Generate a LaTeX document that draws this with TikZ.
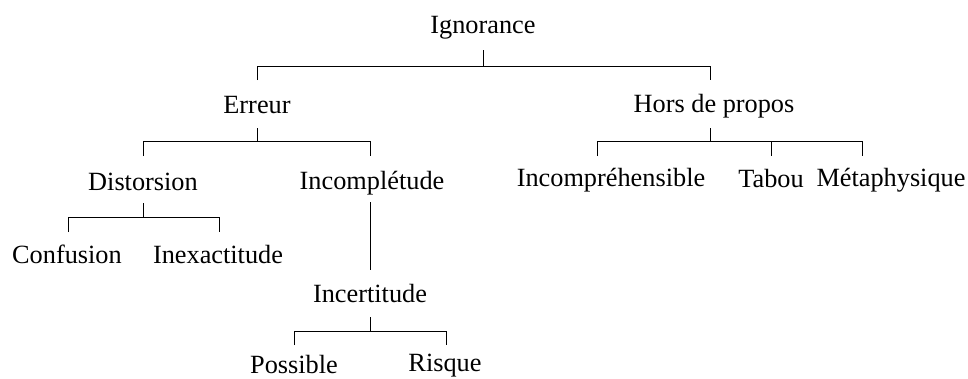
\documentclass[tikz,border=0pt]{standalone}
\usepackage{fontspec}
\setmainfont{Liberation Serif}
\tikzset{
  lbl/.style={anchor=base, inner sep=0pt, font=\fontsize{26.3}{30}\selectfont},
  edge/.style={line width=0.9pt, black}
}
\begin{document}
\begin{tikzpicture}[x=1pt,y=-1pt]
\useasboundingbox (0,0) rectangle (968,378);
% nodes
\node[lbl] (ign)   at (483,33)  {Ignorance};
\node[lbl] (err)   at (257,113) {Erreur};
\node[lbl] (hp)    at (714,112) {Hors de propos};
\node[lbl] (dis)   at (143,190) {Distorsion};
\node[lbl] (inc)   at (372,189) {Incomplétude};
\node[lbl] (ich)   at (611,186) {Incompréhensible};
\node[lbl] (tab)   at (771,187) {Tabou};
\node[lbl] (met)   at (891,186) {Métaphysique};
\node[lbl] (conf)  at (67,263)  {Confusion};
\node[lbl] (inex)  at (218,263) {Inexactitude};
\node[lbl] (icert) at (370,302) {Incertitude};
\node[lbl] (pos)   at (294,373) {Possible};
\node[lbl] (ris)   at (445,371) {Risque};
% levels
\coordinate (a0) at (0,50);  \coordinate (h0) at (0,66);  \coordinate (d0) at (0,80);
\coordinate (a1) at (0,128); \coordinate (h1) at (0,141); \coordinate (d1) at (0,156);
\coordinate (a2) at (0,203); \coordinate (h2) at (0,217); \coordinate (d2) at (0,232);
\coordinate (a3) at (0,317); \coordinate (h3) at (0,331); \coordinate (d3) at (0,345);
\coordinate (ichx) at (597,0);
\coordinate (metx) at (862,0);
\coordinate (hpx)  at (710,0);
% Ignorance
\draw[edge] (ign |- a0) -- (ign |- h0);
\draw[edge] (err |- d0) -- (err |- h0) -- (hpx |- h0) -- (hpx |- d0);
% Erreur
\draw[edge] (err |- a1) -- (err |- h1);
\draw[edge] (dis |- d1) -- (dis |- h1) -- (icert |- h1) -- (icert |- d1);
% Hors de propos
\draw[edge] (hpx |- a1) -- (hpx |- h1);
\draw[edge] (ichx |- d1) -- (ichx |- h1) -- (metx |- h1) -- (metx |- d1);
\draw[edge] (tab |- h1) -- (tab |- d1);
% Distorsion
\draw[edge] (dis |- a2) -- (dis |- h2);
\draw[edge] ([xshift=1pt]conf |- d2) -- ([xshift=1pt]conf |- h2) -- ([xshift=1pt]inex |- h2) -- ([xshift=1pt]inex |- d2);
% Incompletude
\draw[edge] (icert |- 0,202) -- (icert |- 0,270);
% Incertitude
\draw[edge] (icert |- a3) -- (icert |- h3);
\draw[edge] (pos |- d3) -- (pos |- h3) -- ([xshift=1pt]ris |- h3) -- ([xshift=1pt]ris |- d3);
\end{tikzpicture}
\end{document}
